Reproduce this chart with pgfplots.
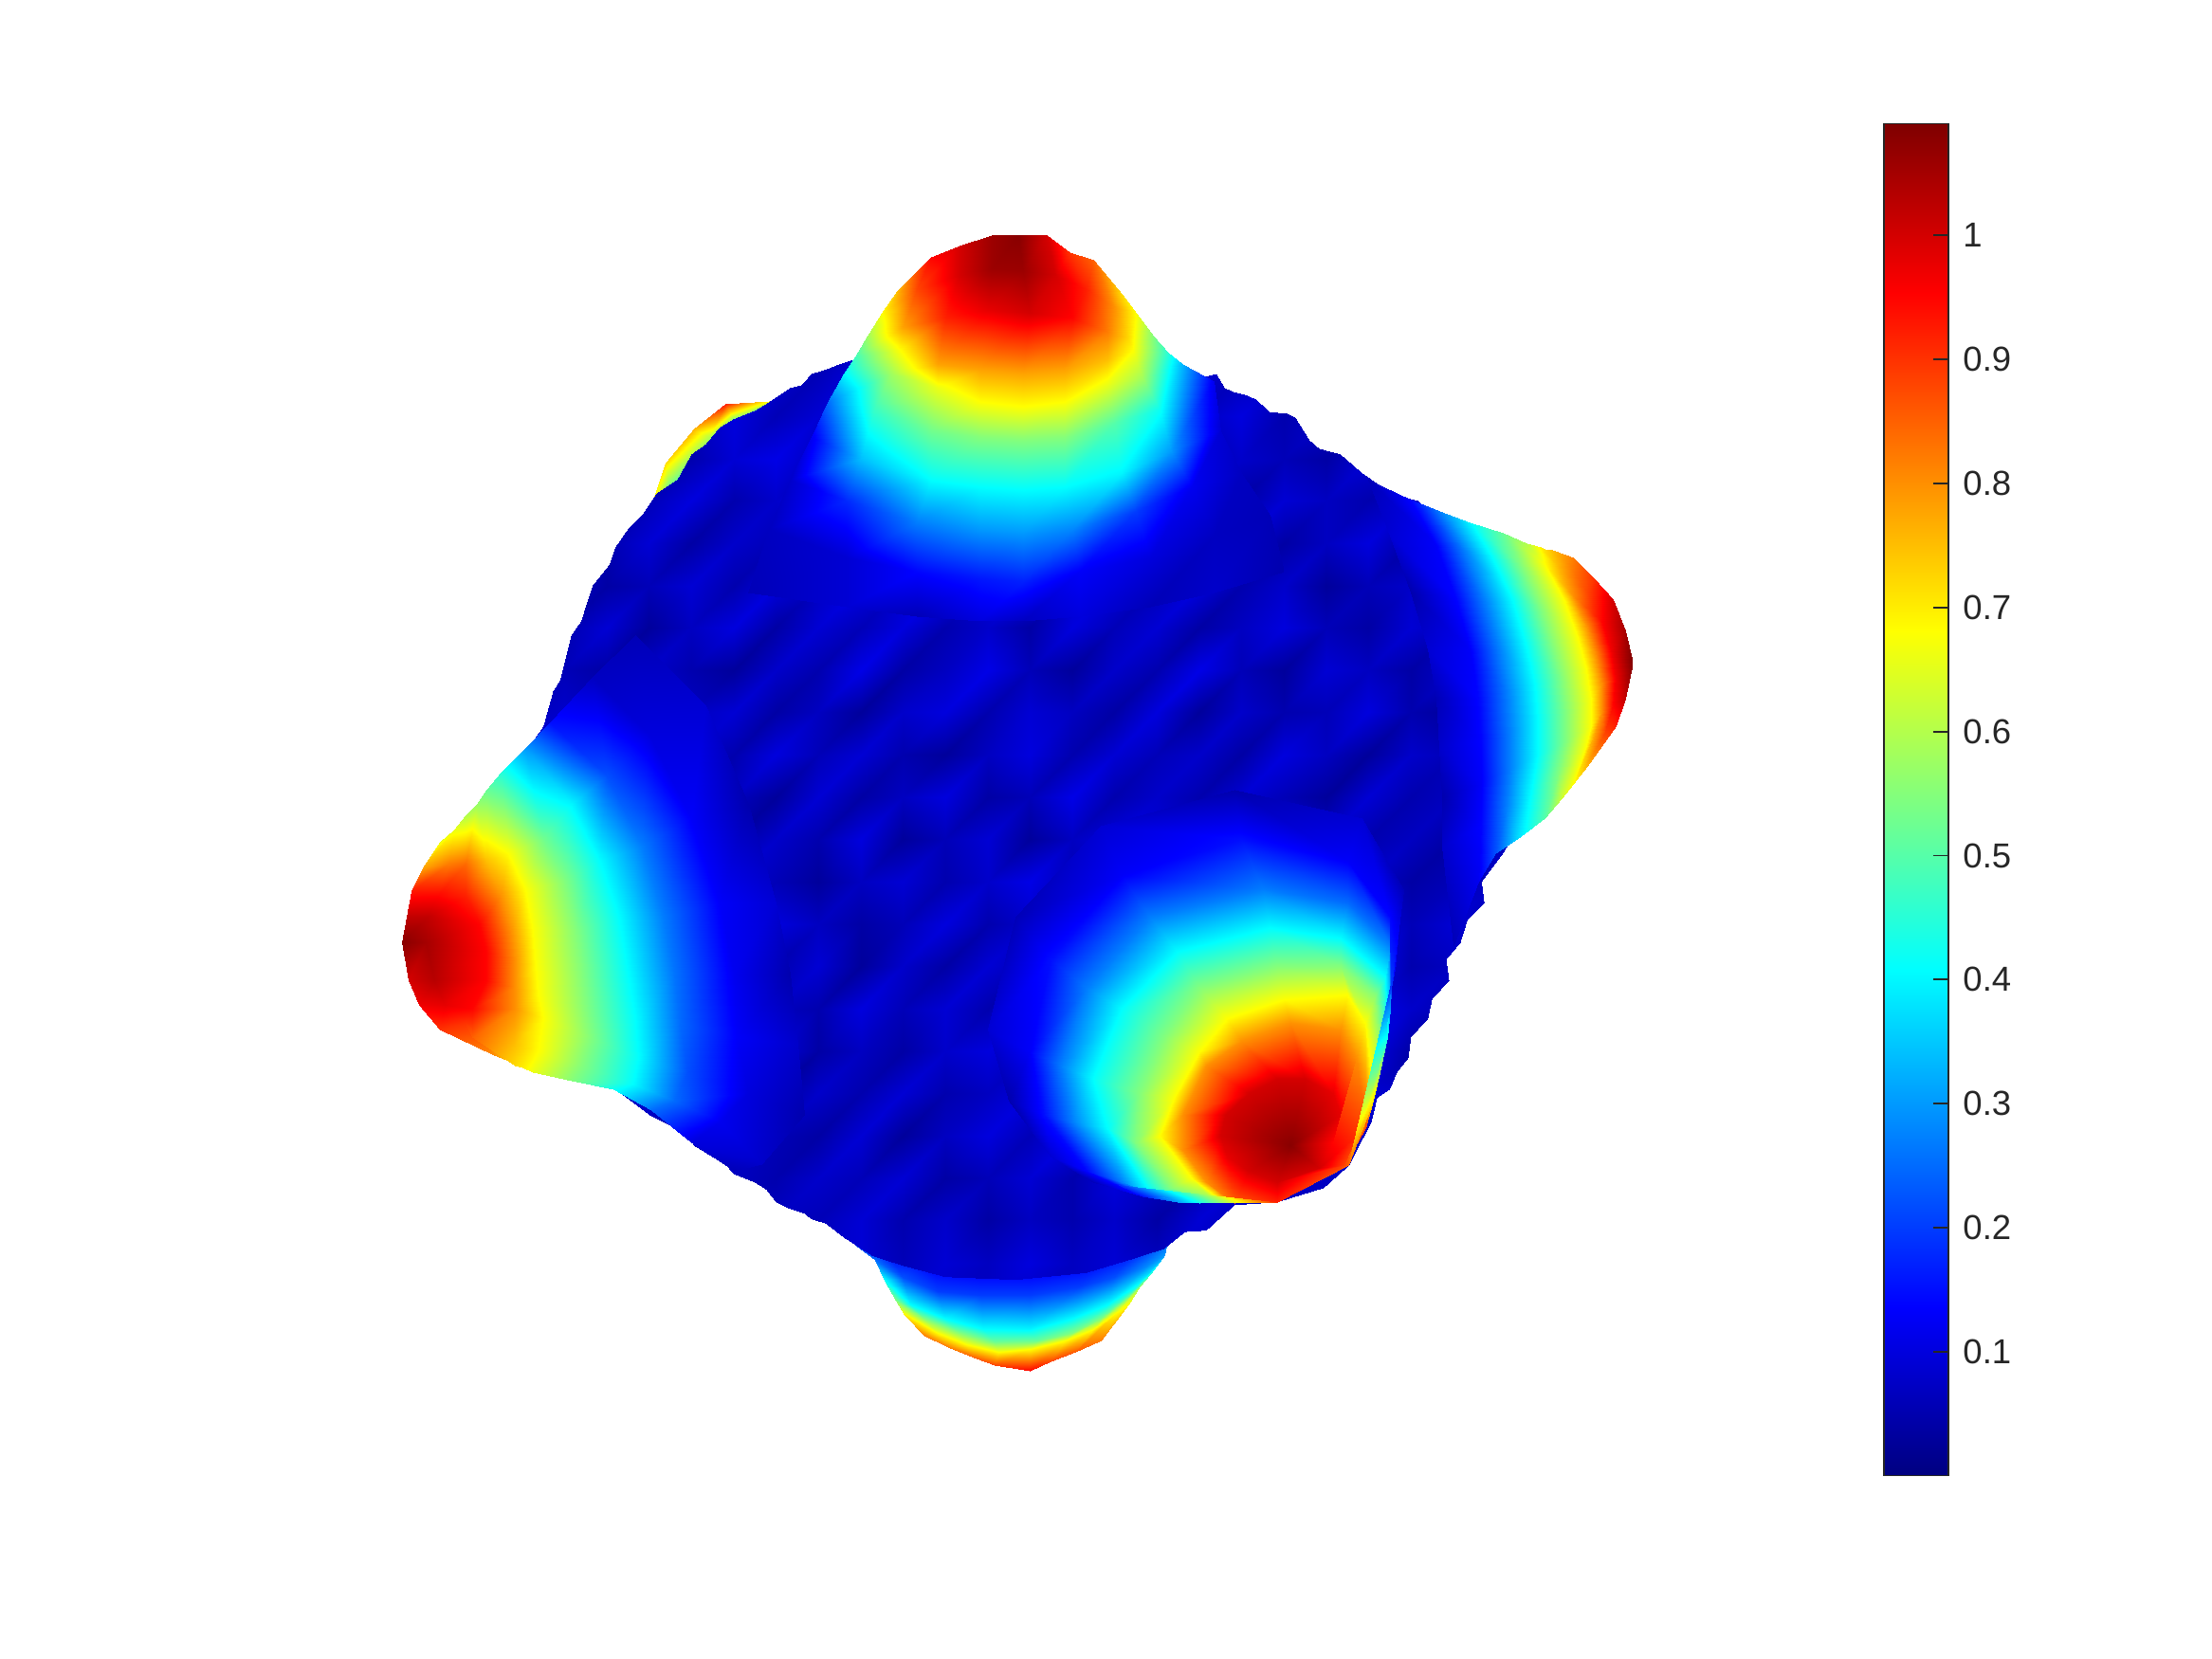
\documentclass[border=0pt]{standalone}
\usepackage{pgfplots}
\pgfplotsset{compat=1.18}
\usepackage{fontspec}
\setmainfont{Liberation Sans}
\definecolor{tk}{gray}{0.15}
\pgfplotsset{
 colormap={mjet}{rgb(0pt)=(0,0,.5); rgb(1pt)=(0,0,1); rgb(3pt)=(0,1,1); rgb(5pt)=(1,1,0); rgb(7pt)=(1,0,0); rgb(8pt)=(.5,0,0)},
 canvas/.style={at={(0,0)},anchor=south west,scale only axis,width=23.33cm,height=17.5cm,
  xmin=0,xmax=1568,ymin=0,ymax=1176,y dir=reverse,hide axis,colormap name=mjet,
  point meta min=0,point meta max=1.09},
 blob/.style={surf,shader=interp,mesh/cols=#1,point meta=explicit},
}
\begin{document}
\begin{tikzpicture}
\path[use as bounding box] (0,0) rectangle (23.33,17.5);
% back peaks
\begin{axis}[canvas]
\addplot[blob=9] table[row sep=\\,x index=0,y index=1,meta index=2]{
590 870 .2\\625 880 .1\\660 885 .08\\695 890 .08\\730 890 .08\\765 885 .08\\795 875 .08\\815 870 .1\\830 865 .15\\
620 893 .25\\640 905 .22\\665 915 .2\\695 918 .2\\730 918 .2\\765 912 .2\\790 905 .22\\812 898 .28\\825 890 .3\\
627 908 .42\\645 925 .41\\670 935 .41\\697 942 .41\\730 942 .4\\760 935 .41\\785 925 .41\\805 912 .42\\818 900 .42\\
635 922 .55\\655 935 .55\\680 945 .55\\705 951 .52\\735 950 .52\\760 945 .55\\780 935 .55\\798 922 .58\\808 912 .58\\
641 932 .7\\665 945 .68\\685 953 .68\\708 958 .68\\730 956 .68\\755 950 .68\\775 942 .68\\792 930 .68\\800 925 .68\\
655 947 .82\\672 955 .82\\690 962 .85\\705 968 .88\\730 972 .95\\745 965 .88\\762 958 .86\\780 950 .82\\797 928 .72\\
};
\addplot[blob=5] table[row sep=\\,x index=0,y index=1,meta index=2]{
464 352 .68\\472 328 .72\\492 304 .76\\514 286 .92\\545 284 .68\\
475 352 .45\\485 332 .55\\503 310 .6\\520 297 .55\\545 287 .5\\
490 360 .3\\500 340 .3\\515 320 .3\\535 305 .3\\555 295 .3\\
};
\end{axis}
% ball
\begin{axis}[canvas]
\clip (axis cs:595,258)--(650,240)--(790,240)--(838,258)--(850,268)--(862,265)--(868,275)--(875,278)--(883,280)--(890,283)--(900,292)--(912,293)--(918,296)--(928,312)--(935,318)--(950,322)--(965,335)--(975,342)--(985,350)--(1005,355)--(1100,450)--(1100,550)--(1065,605)--(1050,625)--(1052,640)--(1040,652)--(1035,668)--(1025,680)--(1027,695)--(1015,708)--(1012,722)--(1000,735)--(998,750)--(990,760)--(985,772)--(976,778)--(972,795)--(956,826)--(938,842)--(905,852)--(875,854)--(855,872)--(840,873)--(825,885)--(800,893)--(770,902)--(720,907)--(670,905)--(640,897)--(618,890)--(598,877)--(585,867)--(575,864)--(570,860)--(558,856)--(550,852)--(543,843)--(535,838)--(520,832)--(512,823)--(505,820)--(492,812)--(486,804)--(480,800)--(460,790)--(440,775)--(400,740)--(350,650)--(360,550)--(385,515)--(392,490)--(397,482)--(400,470)--(405,450)--(412,440)--(415,430)--(420,415)--(432,400)--(436,388)--(445,375)--(455,365)--(465,350)--(480,340)--(490,322)--(500,315)--(510,303)--(520,297)--(535,291)--(545,285)--(560,275)--(568,273)--(575,265)--(585,262)--cycle;
\addplot[blob=27] table[row sep=\\,x index=0,y index=1,meta index=2]{
340 235 .07\\370 235 .07\\400 235 .07\\430 235 .07\\460 235 .07\\490 235 .07\\520 235 .07\\550 235 .07\\580 235 .07\\610 235 .07\\640 235 .07\\670 235 .07\\700 235 .07\\730 235 .07\\760 235 .07\\790 235 .07\\820 235 .07\\850 235 .07\\880 235 .07\\910 235 .07\\940 235 .07\\970 235 .07\\1000 235 .07\\1030 235 .07\\1060 235 .07\\1090 235 .07\\1120 235 .07\\
340 265 .07\\370 265 .07\\400 265 .07\\430 265 .07\\460 265 .07\\490 265 .07\\520 265 .07\\550 265 .09\\580 265 .06\\610 265 .1\\640 265 .1\\670 265 .1\\700 265 .1\\730 265 .1\\760 265 .1\\790 265 .1\\820 265 .1\\850 265 .09\\880 265 .06\\910 265 .07\\940 265 .07\\970 265 .07\\1000 265 .07\\1030 265 .07\\1060 265 .07\\1090 265 .07\\1120 265 .07\\
340 295 .07\\370 295 .07\\400 295 .07\\430 295 .07\\460 295 .07\\490 295 .07\\520 295 .1\\550 295 .06\\580 295 .09\\610 295 .1\\640 295 .1\\670 295 .1\\700 295 .1\\730 295 .1\\760 295 .1\\790 295 .1\\820 295 .1\\850 295 .07\\880 295 .1\\910 295 .05\\940 295 .08\\970 295 .07\\1000 295 .07\\1030 295 .07\\1060 295 .07\\1090 295 .07\\1120 295 .07\\
340 325 .07\\370 325 .07\\400 325 .07\\430 325 .07\\460 325 .08\\490 325 .05\\520 325 .09\\550 325 .11\\580 325 .07\\610 325 .1\\640 325 .1\\670 325 .1\\700 325 .1\\730 325 .1\\760 325 .1\\790 325 .1\\820 325 .1\\850 325 .05\\880 325 .08\\910 325 .06\\940 325 .04\\970 325 .09\\1000 325 .06\\1030 325 .07\\1060 325 .07\\1090 325 .07\\1120 325 .07\\
340 355 .07\\370 355 .07\\400 355 .07\\430 355 .07\\460 355 .06\\490 355 .1\\520 355 .05\\550 355 .08\\580 355 .11\\610 355 .1\\640 355 .1\\670 355 .1\\700 355 .1\\730 355 .1\\760 355 .1\\790 355 .1\\820 355 .1\\850 355 .08\\880 355 .04\\910 355 .09\\940 355 .07\\970 355 .05\\1000 355 .08\\1030 355 .05\\1060 355 .07\\1090 355 .07\\1120 355 .07\\
340 385 .07\\370 385 .07\\400 385 .07\\430 385 .05\\460 385 .09\\490 385 .04\\520 385 .08\\550 385 .06\\580 385 .1\\610 385 .12\\640 385 .1\\670 385 .1\\700 385 .1\\730 385 .1\\760 385 .1\\790 385 .12\\820 385 .09\\850 385 .06\\880 385 .09\\910 385 .04\\940 385 .07\\970 385 .1\\1000 385 .04\\1030 385 .07\\1060 385 .05\\1090 385 .07\\1120 385 .07\\
340 415 .07\\370 415 .07\\400 415 .08\\430 415 .04\\460 415 .06\\490 415 .09\\520 415 .05\\550 415 .1\\580 415 .07\\610 415 .11\\640 415 .08\\670 415 .12\\700 415 .09\\730 415 .11\\760 415 .08\\790 415 .1\\820 415 .06\\850 415 .1\\880 415 .05\\910 415 .08\\940 415 .03\\970 415 .06\\1000 415 .08\\1030 415 .05\\1060 415 .07\\1090 415 .07\\1120 415 .07\\
340 445 .07\\370 445 .07\\400 445 .05\\430 445 .09\\460 445 .03\\490 445 .07\\520 445 .1\\550 445 .04\\580 445 .09\\610 445 .06\\640 445 .1\\670 445 .05\\700 445 .08\\730 445 .04\\760 445 .1\\790 445 .06\\820 445 .09\\850 445 .04\\880 445 .07\\910 445 .1\\940 445 .06\\970 445 .04\\1000 445 .09\\1030 445 .06\\1060 445 .03\\1090 445 .07\\1120 445 .07\\
340 475 .07\\370 475 .09\\400 475 .06\\430 475 .04\\460 475 .08\\490 475 .05\\520 475 .03\\550 475 .08\\580 475 .05\\610 475 .11\\640 475 .04\\670 475 .07\\700 475 .11\\730 475 .06\\760 475 .03\\790 475 .08\\820 475 .05\\850 475 .11\\880 475 .06\\910 475 .03\\940 475 .09\\970 475 .07\\1000 475 .04\\1030 475 .08\\1060 475 .06\\1090 475 .07\\1120 475 .07\\
340 505 .1\\370 505 .06\\400 505 .08\\430 505 .05\\460 505 .1\\490 505 .07\\520 505 .09\\550 505 .04\\580 505 .07\\610 505 .03\\640 505 .08\\670 505 .1\\700 505 .05\\730 505 .09\\760 505 .07\\790 505 .04\\820 505 .1\\850 505 .03\\880 505 .08\\910 505 .05\\940 505 .06\\970 505 .1\\1000 505 .05\\1030 505 .03\\1060 505 .08\\1090 505 .07\\1120 505 .07\\
340 535 .12\\370 535 .09\\400 535 .04\\430 535 .07\\460 535 .03\\490 535 .08\\520 535 .05\\550 535 .1\\580 535 .06\\610 535 .09\\640 535 .05\\670 535 .03\\700 535 .07\\730 535 .1\\760 535 .05\\790 535 .09\\820 535 .06\\850 535 .08\\880 535 .04\\910 535 .1\\940 535 .07\\970 535 .03\\1000 535 .08\\1030 535 .06\\1060 535 .04\\1090 535 .07\\1120 535 .07\\
340 565 .12\\370 565 .1\\400 565 .08\\430 565 .05\\460 565 .09\\490 565 .04\\520 565 .07\\550 565 .03\\580 565 .09\\610 565 .04\\640 565 .07\\670 565 .1\\700 565 .04\\730 565 .06\\760 565 .11\\790 565 .05\\820 565 .08\\850 565 .05\\880 565 .09\\910 565 .06\\940 565 .03\\970 565 .09\\1000 565 .05\\1030 565 .07\\1060 565 .05\\1090 565 .07\\1120 565 .07\\
340 595 .12\\370 595 .11\\400 595 .06\\430 595 .09\\460 595 .06\\490 595 .1\\520 595 .04\\550 595 .08\\580 595 .05\\610 595 .1\\640 595 .03\\670 595 .06\\700 595 .09\\730 595 .03\\760 595 .07\\790 595 .1\\820 595 .09\\850 595 .11\\880 595 .06\\910 595 .1\\940 595 .08\\970 595 .05\\1000 595 .07\\1030 595 .04\\1060 595 .07\\1090 595 .07\\1120 595 .07\\
340 625 .12\\370 625 .12\\400 625 .1\\430 625 .05\\460 625 .08\\490 625 .04\\520 625 .09\\550 625 .06\\580 625 .03\\610 625 .07\\640 625 .09\\670 625 .05\\700 625 .08\\730 625 .11\\760 625 .06\\790 625 .12\\820 625 .1\\850 625 .13\\880 625 .12\\910 625 .14\\940 625 .11\\970 625 .08\\1000 625 .04\\1030 625 .06\\1060 625 .07\\1090 625 .07\\1120 625 .07\\
340 655 .12\\370 655 .12\\400 655 .1\\430 655 .08\\460 655 .05\\490 655 .09\\520 655 .06\\550 655 .1\\580 655 .07\\610 655 .04\\640 655 .06\\670 655 .1\\700 655 .05\\730 655 .08\\760 655 .12\\790 655 .09\\820 655 .15\\850 655 .13\\880 655 .17\\910 655 .15\\940 655 .16\\970 655 .11\\1000 655 .06\\1030 655 .09\\1060 655 .05\\1090 655 .07\\1120 655 .07\\
340 685 .12\\370 685 .12\\400 685 .09\\430 685 .1\\460 685 .07\\490 685 .04\\520 685 .08\\550 685 .05\\580 685 .09\\610 685 .03\\640 685 .08\\670 685 .04\\700 685 .09\\730 685 .06\\760 685 .11\\790 685 .14\\820 685 .12\\850 685 .16\\880 685 .15\\910 685 .17\\940 685 .15\\970 685 .13\\1000 685 .05\\1030 685 .07\\1060 685 .07\\1090 685 .07\\1120 685 .07\\
340 715 .12\\370 715 .12\\400 715 .1\\430 715 .08\\460 715 .09\\490 715 .06\\520 715 .03\\550 715 .07\\580 715 .05\\610 715 .1\\640 715 .06\\670 715 .09\\700 715 .05\\730 715 .11\\760 715 .13\\790 715 .1\\820 715 .15\\850 715 .13\\880 715 .16\\910 715 .14\\940 715 .16\\970 715 .12\\1000 715 .08\\1030 715 .05\\1060 715 .07\\1090 715 .07\\1120 715 .07\\
340 745 .12\\370 745 .12\\400 745 .1\\430 745 .09\\460 745 .06\\490 745 .08\\520 745 .05\\550 745 .1\\580 745 .04\\610 745 .07\\640 745 .04\\670 745 .08\\700 745 .1\\730 745 .07\\760 745 .12\\790 745 .14\\820 745 .13\\850 745 .16\\880 745 .14\\910 745 .16\\940 745 .14\\970 745 .11\\1000 745 .04\\1030 745 .07\\1060 745 .07\\1090 745 .07\\1120 745 .07\\
340 775 .07\\370 775 .07\\400 775 .1\\430 775 .06\\460 775 .08\\490 775 .05\\520 775 .09\\550 775 .03\\580 775 .08\\610 775 .05\\640 775 .09\\670 775 .05\\700 775 .07\\730 775 .1\\760 775 .09\\790 775 .12\\820 775 .11\\850 775 .14\\880 775 .12\\910 775 .14\\940 775 .12\\970 775 .09\\1000 775 .07\\1030 775 .07\\1060 775 .07\\1090 775 .07\\1120 775 .07\\
340 805 .07\\370 805 .07\\400 805 .07\\430 805 .07\\460 805 .07\\490 805 .06\\520 805 .09\\550 805 .06\\580 805 .04\\610 805 .09\\640 805 .03\\670 805 .07\\700 805 .1\\730 805 .06\\760 805 .11\\790 805 .08\\820 805 .12\\850 805 .1\\880 805 .12\\910 805 .1\\940 805 .09\\970 805 .07\\1000 805 .07\\1030 805 .07\\1060 805 .07\\1090 805 .07\\1120 805 .07\\
340 835 .07\\370 835 .07\\400 835 .07\\430 835 .07\\460 835 .07\\490 835 .07\\520 835 .07\\550 835 .05\\580 835 .08\\610 835 .06\\640 835 .09\\670 835 .04\\700 835 .06\\730 835 .09\\760 835 .05\\790 835 .1\\820 835 .07\\850 835 .05\\880 835 .09\\910 835 .07\\940 835 .07\\970 835 .07\\1000 835 .07\\1030 835 .07\\1060 835 .07\\1090 835 .07\\1120 835 .07\\
340 865 .07\\370 865 .07\\400 865 .07\\430 865 .07\\460 865 .07\\490 865 .07\\520 865 .07\\550 865 .07\\580 865 .06\\610 865 .09\\640 865 .05\\670 865 .08\\700 865 .04\\730 865 .07\\760 865 .05\\790 865 .08\\820 865 .04\\850 865 .09\\880 865 .06\\910 865 .07\\940 865 .07\\970 865 .07\\1000 865 .07\\1030 865 .07\\1060 865 .07\\1090 865 .07\\1120 865 .07\\
340 895 .07\\370 895 .07\\400 895 .07\\430 895 .07\\460 895 .07\\490 895 .07\\520 895 .07\\550 895 .07\\580 895 .07\\610 895 .09\\640 895 .06\\670 895 .09\\700 895 .07\\730 895 .1\\760 895 .07\\790 895 .09\\820 895 .07\\850 895 .07\\880 895 .07\\910 895 .07\\940 895 .07\\970 895 .07\\1000 895 .07\\1030 895 .07\\1060 895 .07\\1090 895 .07\\1120 895 .07\\
340 925 .07\\370 925 .07\\400 925 .07\\430 925 .07\\460 925 .07\\490 925 .07\\520 925 .07\\550 925 .07\\580 925 .07\\610 925 .07\\640 925 .07\\670 925 .07\\700 925 .07\\730 925 .07\\760 925 .07\\790 925 .07\\820 925 .07\\850 925 .07\\880 925 .07\\910 925 .07\\940 925 .07\\970 925 .07\\1000 925 .07\\1030 925 .07\\1060 925 .07\\1090 925 .07\\1120 925 .07\\
};
\end{axis}
% front peaks
\begin{axis}[canvas]
% top peak
\addplot[blob=9] table[row sep=\\,x index=0,y index=1,meta index=2]{
636 206 .75\\660 182 .95\\680 174 1\\703 167 1.06\\722 167 1.08\\742 167 1\\758 179 .9\\775 184 .85\\795 208 .72\\
625 222 .68\\650 205 .88\\680 195 1\\703 190 1.06\\725 192 1.06\\748 195 1\\770 205 .92\\790 218 .8\\805 222 .68\\
615 238 .58\\640 232 .78\\670 225 .92\\700 220 .98\\730 222 1\\760 225 .95\\785 235 .82\\800 240 .72\\817 238 .55\\
606 253 .48\\638 248 .68\\665 258 .78\\695 262 .78\\725 265 .78\\755 262 .78\\785 255 .75\\803 248 .68\\828 250 .45\\
598 265 .4\\632 265 .58\\665 275 .66\\695 285 .68\\725 288 .68\\755 285 .68\\785 272 .66\\810 268 .58\\838 258 .33\\
587 285 .25\\620 290 .47\\660 305 .53\\695 310 .55\\725 312 .55\\755 310 .55\\790 300 .5\\822 290 .42\\860 270 .12\\
575 310 .12\\610 325 .34\\660 340 .41\\695 345 .41\\725 347 .41\\755 345 .41\\795 335 .4\\830 320 .3\\865 305 .09\\
560 340 .08\\600 355 .18\\650 370 .27\\695 375 .3\\725 378 .3\\760 375 .28\\805 362 .2\\845 345 .12\\880 335 .07\\
545 375 .07\\600 395 .09\\650 405 .14\\695 410 .16\\725 412 .17\\765 405 .13\\815 395 .1\\860 380 .07\\900 365 .06\\
530 420 .06\\600 430 .09\\650 437 .06\\695 440 .1\\725 440 .07\\765 437 .1\\815 430 .06\\860 420 .08\\910 405 .05\\
};
% left peak
\addplot[blob=9] table[row sep=\\,x index=0,y index=1,meta index=2]{
312 597 .66\\300 615 .78\\292 632 .93\\288 650 1.02\\285 668 1.08\\290 695 1\\297 712 .97\\312 730 .9\\350 748 .8\\
322 588 .66\\318 612 .82\\310 635 .95\\303 650 1.02\\302 668 1.05\\308 695 1.03\\315 712 .98\\330 725 .9\\360 752 .74\\
330 578 .6\\330 612 .84\\330 635 .92\\340 655 .95\\345 675 .95\\345 695 .95\\335 715 .95\\335 735 .85\\365 755 .72\\
338 570 .57\\345 610 .75\\355 635 .8\\362 660 .8\\365 680 .8\\365 700 .8\\365 715 .8\\365 740 .75\\370 757 .7\\
345 560 .52\\360 605 .68\\372 630 .68\\378 660 .68\\380 685 .68\\382 705 .68\\385 722 .68\\382 745 .68\\378 760 .66\\
355 548 .45\\385 595 .53\\400 625 .55\\408 660 .55\\412 690 .55\\415 715 .55\\418 735 .55\\412 755 .55\\405 766 .55\\
372 530 .3\\405 570 .4\\425 610 .41\\438 650 .41\\445 690 .41\\450 725 .41\\452 750 .41\\448 768 .41\\435 772 .42\\
390 512 .15\\430 550 .22\\455 600 .27\\470 650 .27\\478 690 .26\\482 725 .25\\487 760 .22\\478 780 .25\\462 787 .25\\
420 480 .07\\460 520 .1\\490 580 .13\\510 640 .13\\520 690 .12\\522 735 .13\\530 775 .1\\510 795 .12\\490 810 .1\\
450 450 .06\\500 500 .09\\530 570 .05\\550 640 .09\\560 690 .05\\565 740 .08\\570 790 .05\\540 825 .08\\520 830 .06\\
};
% right peak
\addplot[blob=9] table[row sep=\\,x index=0,y index=1,meta index=2]{
1100 390 .76\\1115 395 .82\\1130 410 .9\\1143 425 1\\1152 447 1.05\\1157 470 1.09\\1152 495 1.02\\1145 515 .92\\1125 543 .76\\
1095 389 .72\\1110 398 .8\\1125 420 .88\\1135 440 .95\\1142 460 .97\\1145 480 .97\\1143 500 .95\\1137 520 .88\\1120 550 .72\\
1092 388 .7\\1103 400 .75\\1115 422 .8\\1125 445 .8\\1131 465 .8\\1135 485 .8\\1135 505 .8\\1130 522 .78\\1115 556 .68\\
1082 385 .6\\1095 400 .68\\1108 425 .68\\1118 450 .68\\1124 472 .68\\1128 495 .68\\1128 515 .68\\1124 530 .68\\1107 566 .63\\
1065 378 .52\\1078 400 .55\\1092 430 .55\\1101 458 .55\\1107 480 .55\\1110 505 .55\\1110 525 .55\\1105 548 .55\\1095 580 .5\\
1042 370 .4\\1058 395 .41\\1072 425 .41\\1082 458 .41\\1088 485 .41\\1090 510 .41\\1090 535 .41\\1085 565 .41\\1075 595 .37\\
1020 362 .27\\1038 390 .27\\1052 425 .27\\1062 458 .27\\1068 490 .27\\1070 520 .27\\1070 545 .27\\1067 575 .27\\1060 605 .22\\
1000 354 .14\\1017 385 .13\\1032 425 .14\\1042 460 .13\\1048 495 .14\\1050 525 .14\\1050 555 .13\\1050 585 .14\\1048 625 .12\\
970 340 .06\\985 380 .09\\1000 420 .05\\1012 460 .09\\1018 495 .06\\1020 530 .08\\1022 565 .05\\1022 600 .08\\1030 670 .06\\
};
% lower right peak
\addplot[blob=13] table[row sep=\\,x index=0,y index=1,meta index=2]{
915 812 1.08\\915 812 1.08\\915 812 1.08\\915 812 1.08\\915 812 1.08\\915 812 1.08\\915 812 1.08\\915 812 1.08\\915 812 1.08\\915 812 1.08\\915 812 1.08\\915 812 1.08\\915 812 1.08\\
945 810 .95\\935 828 1\\905 838 1\\885 830 1\\870 820 .98\\865 805 1\\868 790 1\\885 775 1\\905 765 1\\925 765 1\\945 775 .98\\950 790 .98\\945 810 .95\\
968 800 .88\\953 826 .88\\905 852 .92\\875 853 .85\\855 838 .8\\838 815 .8\\838 790 .8\\855 755 .8\\880 738 .8\\915 725 .8\\950 730 .8\\962 750 .8\\968 800 .88\\
973 780 .7\\956 826 .85\\905 852 .92\\868 852 .7\\845 835 .68\\822 805 .68\\832 778 .68\\850 745 .68\\870 722 .68\\910 708 .68\\955 705 .68\\968 725 .68\\973 780 .7\\
978 760 .6\\956 826 .85\\905 852 .92\\860 852 .55\\830 842 .55\\805 810 .55\\808 775 .55\\825 735 .55\\850 700 .55\\905 685 .55\\950 685 .55\\975 705 .55\\978 760 .6\\
983 735 .42\\956 826 .85\\905 852 .92\\850 853 .4\\815 845 .41\\785 800 .41\\775 765 .41\\795 715 .41\\835 675 .41\\900 658 .41\\950 665 .41\\982 692 .41\\983 735 .42\\
985 715 .3\\956 826 .85\\905 852 .92\\835 852 .3\\795 838 .27\\760 795 .27\\752 755 .27\\770 700 .27\\815 650 .27\\895 630 .27\\955 640 .25\\985 670 .27\\985 715 .3\\
986 700 .2\\956 826 .85\\905 852 .92\\810 848 .15\\770 830 .14\\740 790 .15\\730 745 .13\\745 680 .15\\795 620 .13\\880 595 .15\\955 610 .13\\985 650 .14\\986 700 .2\\
990 680 .08\\956 826 .85\\905 852 .92\\775 838 .06\\745 820 .09\\715 780 .05\\700 730 .09\\720 650 .06\\780 585 .09\\875 560 .05\\965 580 .09\\995 630 .06\\990 680 .08\\
};
\end{axis}
% colour bar
\begin{axis}[at={(19.87cm,1.934cm)},anchor=south west,scale only axis,width=0.68cm,height=14.26cm,
 colormap name=mjet,point meta min=0,point meta max=1.09,
 xmin=0,xmax=1,ymin=0,ymax=1.09,xtick=\empty,
 ytick={.1,.2,.3,.4,.5,.6,.7,.8,.9,1},yticklabels={0.1,0.2,0.3,0.4,0.5,0.6,0.7,0.8,0.9,1},
 ytick pos=right,yticklabel pos=right,tick align=inside,major tick length=.16cm,axis on top,
 tick style={tk,line width=.5pt},axis line style={tk,line width=.5pt},
 yticklabel style={font=\fontsize{10.4}{12}\selectfont,text=tk,xshift=.03cm}]
\addplot[surf,shader=interp,mesh/cols=2,point meta=explicit] table[row sep=\\,x index=0,y index=1,meta index=2]{
0 0 0\\1 0 0\\
0 1.09 1.09\\1 1.09 1.09\\
};
\end{axis}
\end{tikzpicture}
\end{document}
